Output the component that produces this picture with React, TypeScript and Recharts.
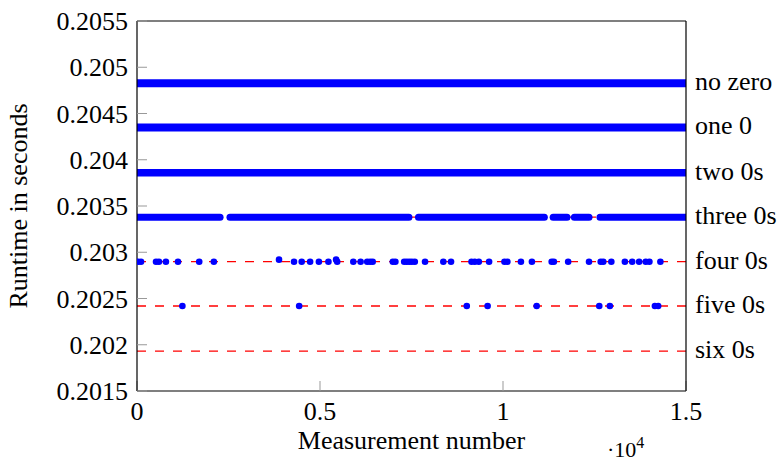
import { ComposedChart, XAxis, YAxis, Line, Scatter, ReferenceLine, Label } from 'recharts'

const seriesNames = ['no zero', 'one 0', 'two 0s', 'three 0s', 'four 0s', 'five 0s', 'six 0s']
const seriesLevels = [0.204826, 0.204349, 0.203859, 0.203379, 0.202898, 0.202419, 0.201932]

// the dense series are drawn as runs of touching dots: [first, last] measurement of each run
const noZeroRuns = [[0, 15000]]
const oneZeroRuns = [[0, 15000]]
const twoZeroRuns = [[0, 15000]]
const threeZeroRuns = [[0, 2270], [2540, 7430], [7690, 11130], [11370, 11750], [11950, 12350], [12650, 15000]]

const fourZeroX = [30, 110, 520, 600, 790, 1120, 1700, 2100, 3880, 4290, 4500, 4730, 4970, 5230, 5440, 5470,
  5910, 6110, 6290, 6370, 6440, 6990, 7060, 7300, 7370, 7440, 7510, 7590, 7870, 8370, 8580, 9140, 9230, 9340,
  9620, 10040, 10120, 10490, 10790, 11330, 11390, 11780, 12350, 12670, 12740, 12960, 13330, 13530, 13720,
  13900, 14000, 14300]
// a couple of the four-0 points sit a bit higher
const fourZeroHigh = [3880, 5440]
const fourZeroHighValue = 0.20292
const fiveZeroX = [1240, 4430, 9010, 9580, 10920, 12630, 12920, 14150, 14240]

const xTicks = [0, 5000, 10000, 15000]
const yTicks = [0.2015, 0.202, 0.2025, 0.203, 0.2035, 0.204, 0.2045, 0.205, 0.2055]

const FONT = 'Liberation Serif, Times New Roman, serif'
const BLUE = '#0000ff'
const bandWidths = [8, 8, 7.5, 7]

const denseRuns = [noZeroRuns, oneZeroRuns, twoZeroRuns, threeZeroRuns]
const fourZeroPts = fourZeroX.map(x => ({ x, y: fourZeroHigh.includes(x) ? fourZeroHighValue : seriesLevels[4] }))
const fiveZeroPts = fiveZeroX.map(x => ({ x, y: seriesLevels[5] }))

const tickStyle = { fill: '#000', fontSize: 26, fontFamily: FONT }

const dot = (p: any) => <circle cx={p.cx} cy={p.cy} r={3.3} fill={BLUE} />

const rightLabel = (text: string) => (p: any) => {
  const vb = p.viewBox || { x: 0, y: 0, width: 0 }
  return (
    <text x={vb.x + vb.width + 9} y={vb.y + 7} fontSize={26} fontFamily={FONT} fill="#000">{text}</text>
  )
}

export default function App() {
  return (
    <div style={{ position: 'absolute', left: 0, top: 0, background: '#fff', fontFamily: FONT }}>
      <ComposedChart width={778} height={462} margin={{ top: 20, right: 0, bottom: 0, left: 0 }}>
        <XAxis xAxisId="top" orientation="top" type="number" dataKey="x" domain={[0, 15000]} ticks={xTicks}
          allowDataOverflow height={1} tick={false} tickSize={-10} axisLine={{ stroke: '#000', strokeWidth: 1.2 }}
          tickLine={{ stroke: '#999' }} />
        <XAxis type="number" dataKey="x" domain={[0, 15000]} ticks={xTicks} allowDataOverflow height={71}
          tickSize={-10} tickMargin={21} tick={tickStyle} tickFormatter={(v: number) => String(v / 10000)}
          axisLine={{ stroke: '#000', strokeWidth: 1.2 }} tickLine={{ stroke: '#999' }}>
          <Label content={(p: any) => {
            const vb = p.viewBox || { x: 0, y: 0, width: 0 }
            return <text x={vb.x + vb.width / 2} y={vb.y + 58} textAnchor="middle" fontSize={26} fontFamily={FONT} fill="#000">Measurement number</text>
          }} />
          <Label content={(p: any) => {
            const vb = p.viewBox || { x: 0, y: 0, width: 0 }
            return (
              <text x={vb.x + vb.width - 79} y={vb.y + 66} fontSize={22} fontFamily={FONT} fill="#000">
                ·10<tspan dy={-9} fontSize={16}>4</tspan>
              </text>
            )
          }} />
        </XAxis>
        <YAxis type="number" dataKey="y" domain={[0.2015, 0.2055]} ticks={yTicks} allowDataOverflow width={137}
          tickSize={-10} tickMargin={19} tick={tickStyle} tickFormatter={(v: number) => String(v)}
          axisLine={{ stroke: '#000', strokeWidth: 1.2 }} tickLine={{ stroke: '#999' }}>
          <Label content={(p: any) => {
            const vb = p.viewBox || { x: 0, y: 0, height: 0 }
            const cy = vb.y + vb.height / 2
            return <text x={27} y={cy} transform={`rotate(-90 27 ${cy})`} textAnchor="middle" fontSize={26} fontFamily={FONT} fill="#000">Runtime in seconds</text>
          }} />
        </YAxis>
        <YAxis yAxisId="right" orientation="right" type="number" domain={[0.2015, 0.2055]} ticks={yTicks}
          allowDataOverflow width={92} tick={false} tickSize={-10} axisLine={{ stroke: '#000', strokeWidth: 1.2 }}
          tickLine={{ stroke: '#999' }} />

        {seriesLevels.map((v, i) => (
          <ReferenceLine key={'ref' + i} y={v} stroke="#ff0000" strokeWidth={1.3} strokeDasharray="9 9"
            label={rightLabel(seriesNames[i])} />
        ))}

        {denseRuns.map((runs, s) => runs.map((r, k) => (
          <Line key={'band' + s + '-' + k} data={r.map(x => ({ x, y: seriesLevels[s] }))} dataKey="y"
            stroke={BLUE} strokeWidth={bandWidths[s]} strokeLinecap="round" dot={false}
            isAnimationActive={false} />
        )))}

        <Scatter data={fourZeroPts} dataKey="y" fill={BLUE} shape={dot} isAnimationActive={false} />
        <Scatter data={fiveZeroPts} dataKey="y" fill={BLUE} shape={dot} isAnimationActive={false} />
      </ComposedChart>
    </div>
  )
}
